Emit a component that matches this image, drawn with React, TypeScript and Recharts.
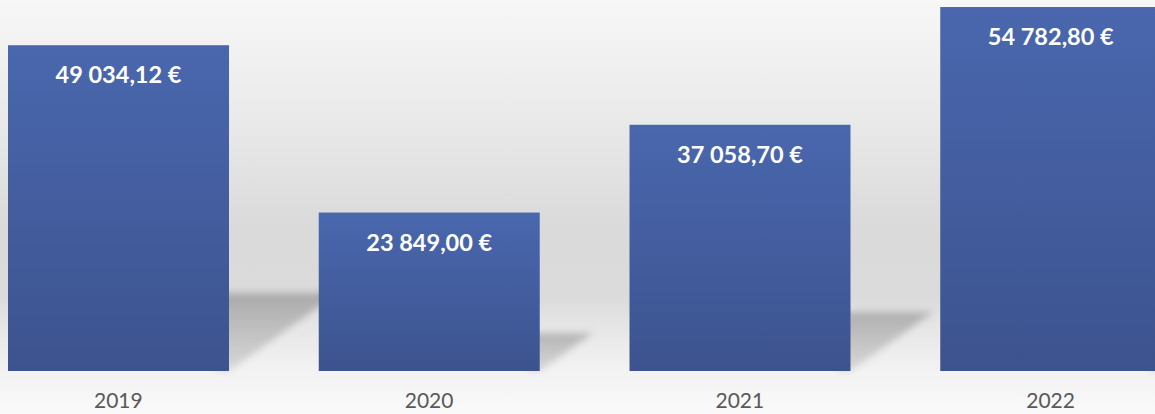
import { BarChart, Bar, XAxis, YAxis, LabelList } from 'recharts'

const years = ['2019', '2020', '2021', '2022']
const amounts = [49034.12, 23849.0, 37058.7, 54782.8]

const rows = years.map((year, i) => ({ year, amount: amounts[i] }))

const formatEuro = (value: number) => {
    const [intPart, decPart] = value.toFixed(2).split('.')
    const grouped = intPart.replace(/\B(?=(\d{3})+(?!\d))/g, ' ')
    return `${grouped},${decPart} €`
}

const FONT = 'Lato, "Open Sans", sans-serif'

// bar with a soft cast shadow on the floor behind it
const ShadowBar = (props: any) => {
    const { x, y, width, height } = props
    if (!height || height <= 0) return null
    const base = y + height
    const s = height * 0.24
    const right = x + width
    const pts = [
        [right - 12, base],
        [right - 12, base - s],
        [right + 1.4 * s, base - s],
        [right, base],
    ]
        .map((p) => p.join(','))
        .join(' ')
    return (
        <g>
            <polygon points={pts} fill="url(#shadowFill)" filter="url(#shadowBlur)" />
            <rect x={x} y={y} width={width} height={height} fill="url(#barFill)" />
        </g>
    )
}

const ValueLabel = (props: any) => {
    const { x, y, width, value } = props
    return (
        <text
            x={x + width / 2}
            y={y + 38}
            textAnchor="middle"
            fill="#ffffff"
            fontFamily={FONT}
            fontWeight={700}
            fontSize={23.5}
        >
            {formatEuro(value)}
        </text>
    )
}

export default function App() {
    return (
        <div
            style={{
                position: 'absolute',
                left: 0,
                top: 0,
                width: 1155,
                height: 414,
                overflow: 'hidden',
                background:
                    'linear-gradient(to bottom, #f7f7f7 0%, #e9e9e9 30%, #dadada 55%, #dbdbdb 72%, #e6e6e6 79%, #f2f2f2 89%, #fafafa 100%)',
            }}
        >
            <svg width={0} height={0} style={{ position: 'absolute' }}>
                <defs>
                    <linearGradient id="barFill" x1="0" y1="0" x2="0" y2="1">
                        <stop offset="0%" stopColor="#4a67ae" />
                        <stop offset="100%" stopColor="#3c538e" />
                    </linearGradient>
                    <linearGradient id="shadowFill" x1="0" y1="0" x2="0" y2="1">
                        <stop offset="0%" stopColor="#000" stopOpacity={0.22} />
                        <stop offset="100%" stopColor="#000" stopOpacity={0.11} />
                    </linearGradient>
                    <filter id="shadowBlur" x="-50%" y="-50%" width="200%" height="200%">
                        <feGaussianBlur stdDeviation={3.5} />
                    </filter>
                </defs>
            </svg>
            <div style={{ position: 'absolute', left: -37, top: 0 }}>
                <BarChart
                    width={1243}
                    height={414}
                    data={rows}
                    margin={{ top: 0, right: 0, left: 0, bottom: 0 }}
                >
                    <XAxis
                        dataKey="year"
                        height={43}
                        axisLine={false}
                        tickLine={false}
                        tickMargin={16}
                        tick={{ fill: '#595959', fontSize: 21, fontFamily: FONT }}
                    />
                    <YAxis hide domain={[0, 55840]} />
                    <Bar
                        dataKey="amount"
                        barSize={221}
                        shape={<ShadowBar />}
                        isAnimationActive={false}
                    >
                        <LabelList dataKey="amount" content={<ValueLabel />} />
                    </Bar>
                </BarChart>
            </div>
        </div>
    )
}
